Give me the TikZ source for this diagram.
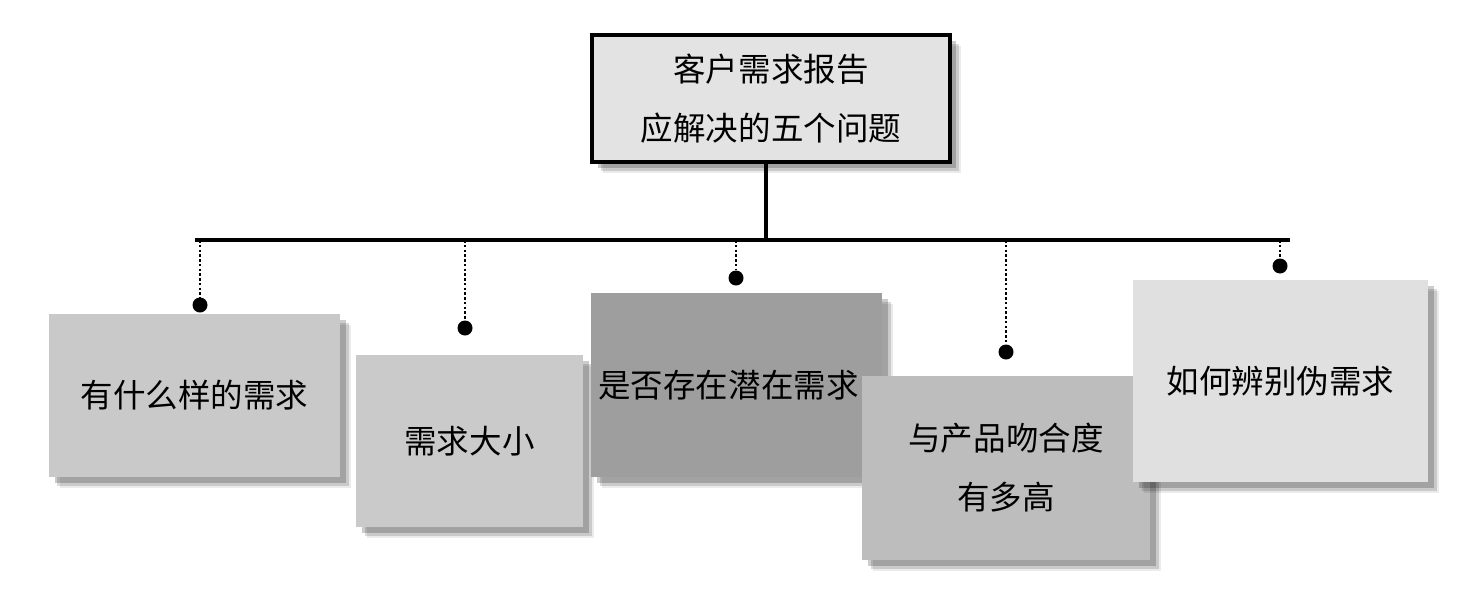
\documentclass[tikz,border=0pt]{standalone}
\usepackage{fontspec}
\setmainfont{Noto Sans CJK SC}
\usetikzlibrary{shadows}

\definecolor{topgray}{HTML}{E3E3E3}
\definecolor{qgrayA}{HTML}{C9C9C9}
\definecolor{qgrayB}{HTML}{CACACA}
\definecolor{qgrayC}{HTML}{9E9E9E}
\definecolor{qgrayD}{HTML}{BDBDBD}
\definecolor{qgrayE}{HTML}{E0E0E0}

\begin{document}
\begin{tikzpicture}[x=0.2mm, y=-0.2mm,
    card/.style={inner sep=0pt, align=center,
        font=\fontsize{18.5pt}{33.5pt}\selectfont,
        drop shadow={shadow xshift=2.2mm, shadow yshift=-2.2mm, fill=black, opacity=0.08},
        drop shadow={shadow xshift=1.7mm, shadow yshift=-1.7mm, fill=black, opacity=0.14},
        drop shadow={shadow xshift=1.2mm, shadow yshift=-1.2mm, fill=black, opacity=0.2}},
    pindot/.style={circle, fill=black, inner sep=0pt, minimum size=3mm}]

\useasboundingbox (0,0) rectangle (1471,588);

% report box and bar
\node[card, draw=black, line width=0.8mm, fill=topgray,
      minimum width=71.6mm, minimum height=25.4mm] (report) at (771,98.5)
      {客户需求报告\\应解决的五个问题};

\coordinate (barL) at (195,240);
\coordinate (barR) at (1290,240);
\coordinate (stem) at (766,240);
\draw[line width=0.8mm] (barL) -- (barR);
\draw[line width=0.8mm] (stem |- report.south) -- (stem);

% question cards
\node[card, fill=qgrayA, minimum width=58.2mm, minimum height=32.6mm] (q1) at (194.5,395.5) {有什么样的需求};
\node[card, fill=qgrayB, minimum width=45.4mm, minimum height=34.4mm] (q2) at (469.5,441) {需求大小};
\node[card, fill=qgrayC, minimum width=58.2mm, minimum height=36.8mm] (q3) at (736.5,385) {\hspace*{-1.6mm}是否存在潜在需求\hspace*{1.6mm}};
\node[card, fill=qgrayD, minimum width=57.6mm, minimum height=36.8mm] (q4) at (1006,468) {与产品吻合度\\有多高};
\node[card, fill=qgrayE, minimum width=59mm, minimum height=40.4mm] (q5) at (1280.5,381) {如何辨别伪需求};

% pins hanging from the bar
\foreach \i/\x/\y in {1/200/305, 2/465/328, 3/736/278, 4/1006/352, 5/1280/266}
{
    \coordinate (b\i) at (\x,240);
    \node[pindot] (d\i) at (\x,\y) {};
    \draw[line width=0.55mm, dash pattern=on 0.5mm off 0.45mm] (b\i) -- (d\i);
}

\end{tikzpicture}
\end{document}
